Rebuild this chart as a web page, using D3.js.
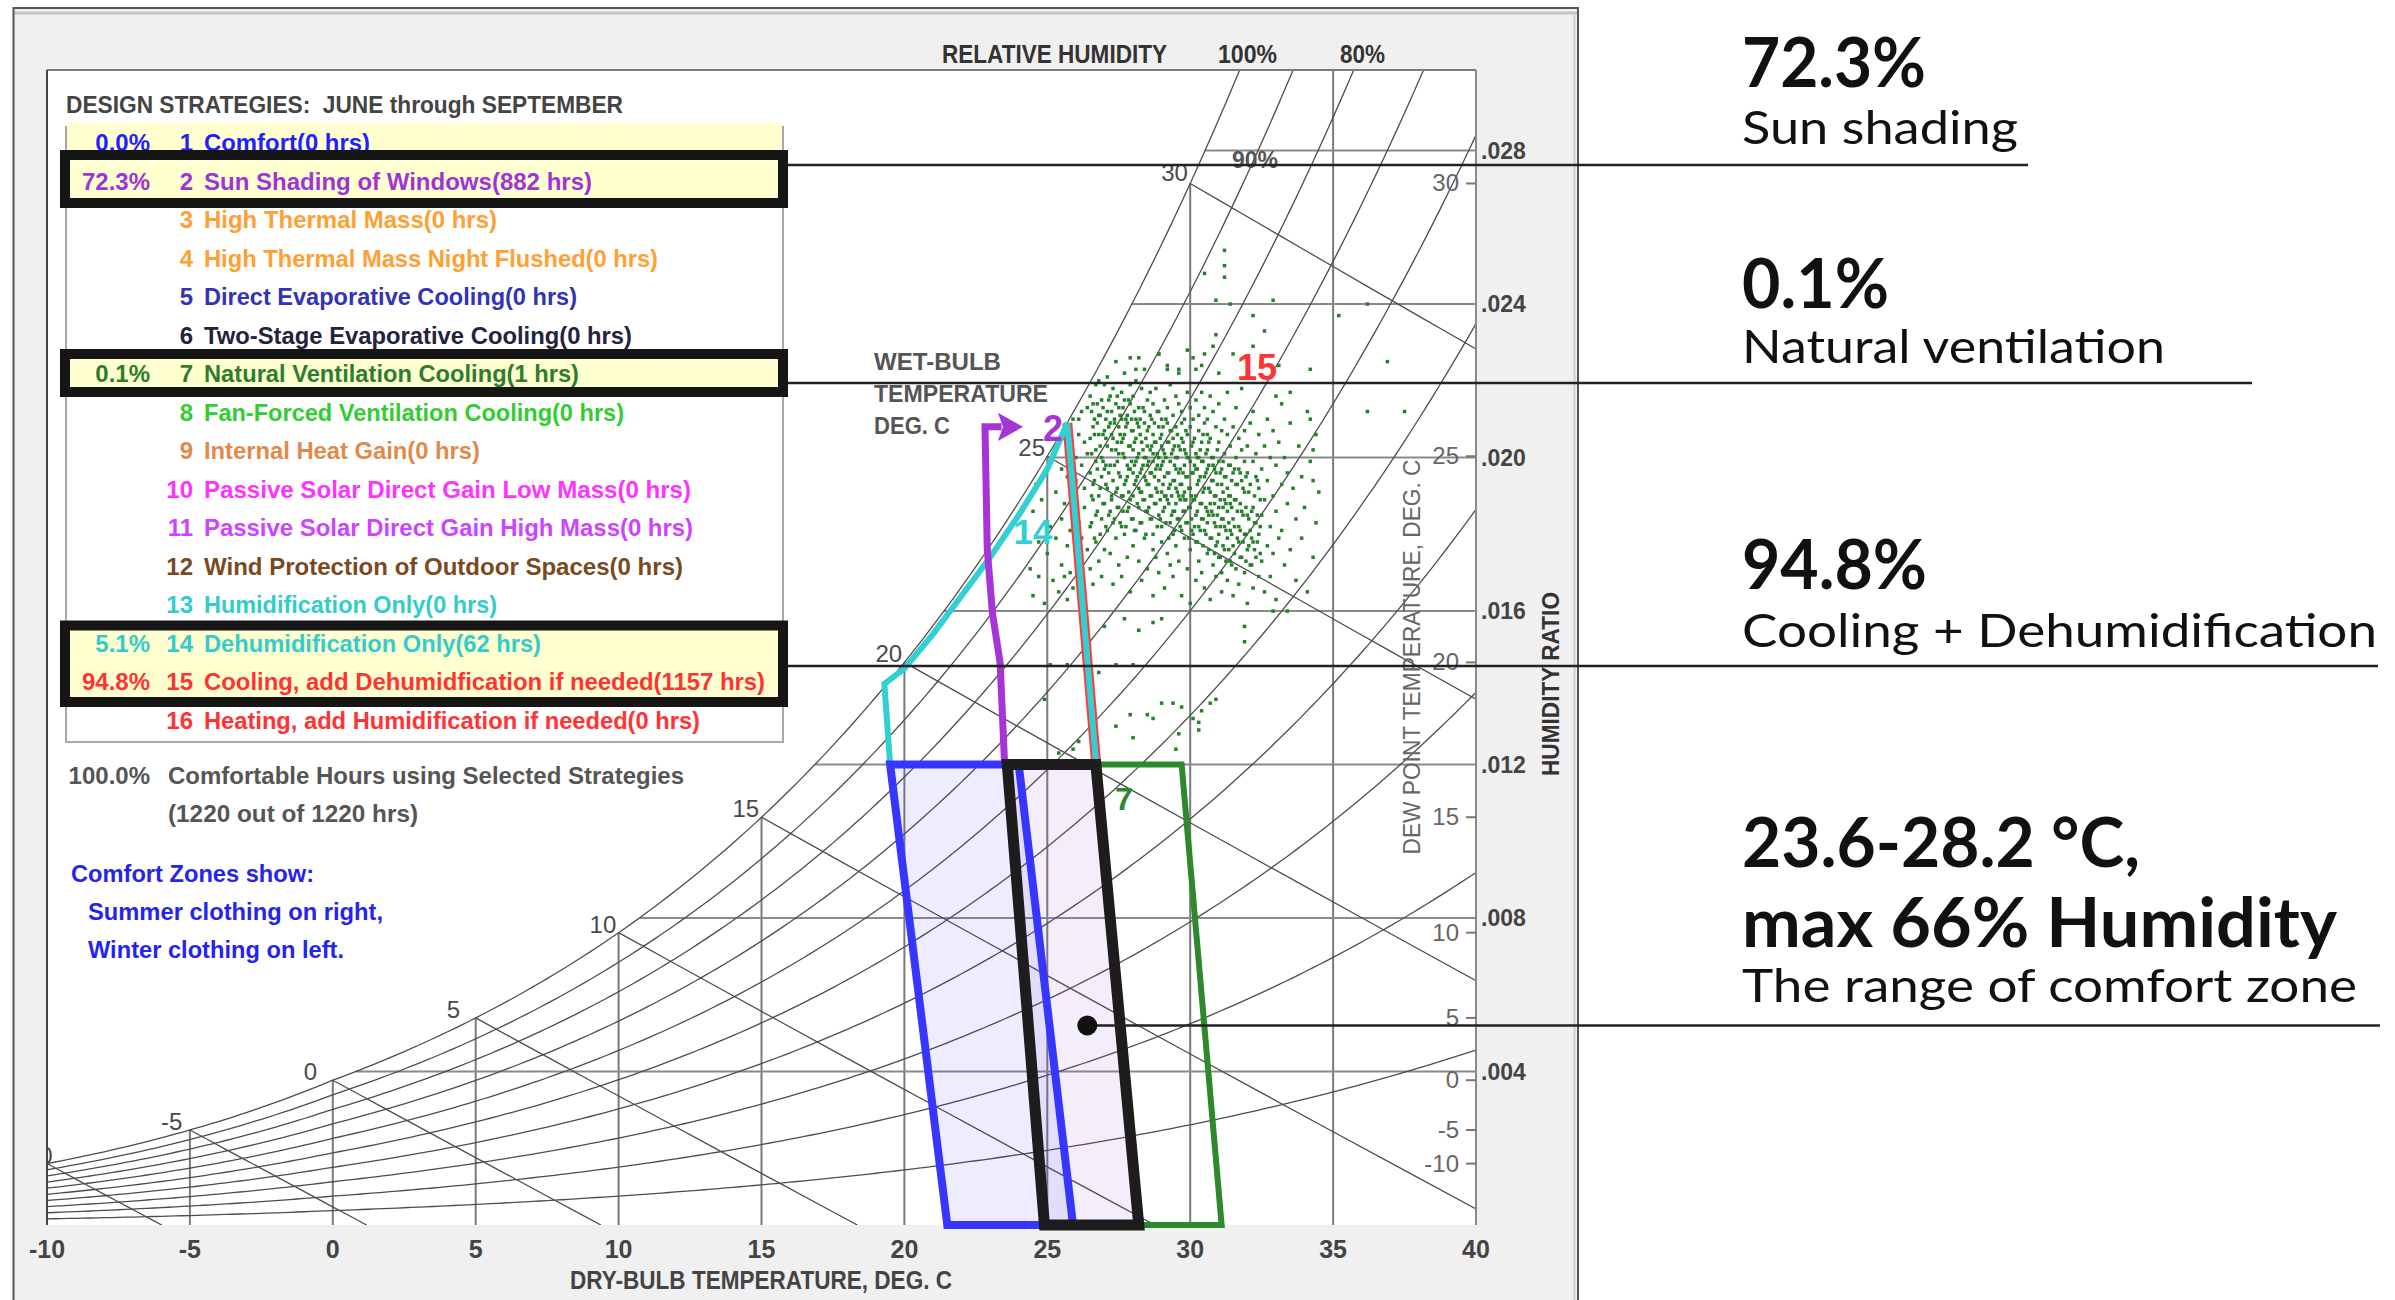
<!DOCTYPE html>
<html lang="en">
<head>
<meta charset="utf-8">
<title>Psychrometric chart – design strategies, June through September</title>
<script src="https://cdn.jsdelivr.net/npm/d3@7/dist/d3.min.js"></script>
<style>
  html, body { margin: 0; padding: 0; background: #ffffff; }
  svg { display: block; }
  .ui { font-family: "Liberation Sans", Arial, Helvetica, sans-serif; }
  .note { font-family: Lato, "Noto Sans", sans-serif; }
  .pre { white-space: pre; }
</style>
</head>
<body>
<svg id="chart" width="2395" height="1300"></svg>
<script>
// ---------------------------------------------------------------------------
// Chart data
// ---------------------------------------------------------------------------
const dryBulbTicks = [-10, -5, 0, 5, 10, 15, 20, 25, 30, 35, 40];          // °C
const humidityRatioTicks = [4, 8, 12, 16, 20, 24, 28];                     // g/kg
const humidityRatioLabels = [".004", ".008", ".012", ".016", ".020", ".024", ".028"];
const dewPointTicks = [-10, -5, 0, 5, 10, 15, 20, 25, 30];                 // °C
const wetBulbTicks = [-10, -5, 0, 5, 10, 15, 20, 25, 30];                  // °C
const rhCurves = [10, 20, 30, 40, 50, 60, 70, 80, 90, 100];                // %

const strategyNames = [
  "Comfort", "Sun Shading of Windows", "High Thermal Mass", "High Thermal Mass Night Flushed",
  "Direct Evaporative Cooling", "Two-Stage Evaporative Cooling", "Natural Ventilation Cooling",
  "Fan-Forced Ventilation Cooling", "Internal Heat Gain", "Passive Solar Direct Gain Low Mass",
  "Passive Solar Direct Gain High Mass", "Wind Protection of Outdoor Spaces", "Humidification Only",
  "Dehumidification Only", "Cooling, add Dehumidfication if needed", "Heating, add Humidification if needed"
];
const strategyHours = [0, 882, 0, 0, 0, 0, 1, 0, 0, 0, 0, 0, 0, 62, 1157, 0];
const selectedStrategies = [1, 2, 7, 14, 15];
const totalHours = 1220;
const comfortableHours = 1220;

// zones as [dry-bulb °C, humidity ratio g/kg]
const winterZone = [[19.5, 12], [24.0, 12], [25.9, 0], [21.5, 0]];
const summerZone = [[23.6, 12], [26.7, 12], [28.2, 0], [24.9, 0]];
const ventilationZone = [[26.7, 12], [29.7, 12], [31.1, 0], [28.2, 0]];
const dehumidZone = [[19.5, 12], [19.3, 14.1], [20, 14.5], [21, 15.4], [22, 16.4], [23, 17.4],
                     [24, 18.5], [25, 19.7], [25.7, 20.9], [26.7, 12.1]];
const coolingEdge = [[25.7, 20.9], [26.7, 12.1]];
const sunShadingEdge = [[23.5, 12.1], [23.35, 14.65], [23.08, 15.95], [22.9, 17.6], [22.82, 20.8], [23.4, 20.8]];
const sunShadingArrow = [[23.27, 21.17], [24.15, 20.8], [23.27, 20.43], [23.45, 20.8]];
const comfortMarker = [26.4, 5.2];

// hourly conditions: [dry-bulb °C, [humidity ratios g/kg]]
const hourlyByTemp = [
  [24.4, [17.1]], [24.5, [18.6, 16.4]], [24.6, [19.3]], [24.7, [17.8, 16.9]], [24.8, [18.9]],
  [24.9, [16.2, 19.6]], [25.0, [17.5]], [25.1, [18.2, 19.9]], [25.2, [16.8]], [25.3, [17.9, 19.1]],
  [25.4, [16.5, 20.4]], [25.5, [18.4, 19.7, 17.2]], [25.6, [20.5, 16.9, 18.8]],
  [25.7, [19.5, 17.7, 20.7, 16.3]], [25.8, [18.1, 20.3, 17.0]], [25.9, [19.0, 21.0, 16.6, 18.6]],
  [26.0, [20.0, 17.4, 19.4]], [26.1, [21.0, 18.3, 16.8, 20.6]], [26.2, [19.8, 17.9, 21.2]],
  [26.3, [18.7, 20.4, 16.5, 19.2]], [26.4, [21.3, 17.6, 20.1]],
  [26.5, [19.6, 18.2, 21.6, 17.1, 20.5]], [26.6, [20.8, 18.9, 16.7, 21.4, 19.3]],
  [26.7, [17.8, 20.2, 21.9, 18.5, 19.9]], [26.8, [21.1, 19.0, 17.3, 20.6, 22.0]],
  [26.9, [18.4, 20.0, 21.5, 19.5, 16.9]], [27.0, [20.7, 18.8, 21.9, 17.6, 19.7]],
  [27.1, [19.2, 21.2, 20.3, 18.1, 22.1]], [27.2, [20.9, 17.5, 19.8, 21.6, 18.6]],
  [27.3, [18.3, 20.5, 21.8, 19.4, 16.7]], [27.4, [21.4, 19.1, 20.2, 17.9, 22.5]],
  [27.5, [20.1, 18.7, 21.3, 19.6, 17.2, 20.8]], [27.6, [19.0, 21.7, 20.4, 18.2, 21.0, 16.9]],
  [27.7, [20.6, 19.3, 21.5, 18.0, 20.0, 22.2]], [27.8, [18.6, 21.1, 19.8, 20.9, 17.4, 19.5]],
  [27.9, [21.9, 20.3, 18.9, 19.7, 21.4, 16.5]], [28.0, [20.2, 19.0, 21.6, 18.4, 20.7, 17.7, 19.6]],
  [28.1, [19.4, 21.0, 20.5, 18.1, 22.0, 19.9]], [28.2, [20.8, 18.7, 21.3, 19.2, 17.3, 20.1, 22.6]],
  [28.3, [19.7, 21.8, 18.3, 20.4, 19.1, 16.8]], [28.4, [21.2, 20.0, 18.9, 19.5, 17.9, 20.9, 22.3]],
  [28.5, [20.3, 18.6, 21.5, 19.3, 17.1, 20.7, 19.8]], [28.6, [19.0, 21.1, 20.2, 18.4, 21.7, 19.6]],
  [28.7, [20.6, 18.0, 19.9, 21.4, 17.6, 20.1, 16.4]], [28.8, [21.8, 19.2, 20.4, 18.8, 19.7, 17.4]],
  [28.9, [20.0, 18.5, 21.2, 19.4, 22.7, 20.8, 17.0]], [29.0, [19.1, 20.6, 18.2, 21.0, 19.8, 17.8, 20.3]],
  [29.1, [21.5, 19.5, 20.1, 18.7, 16.6, 19.0]], [29.2, [20.4, 18.9, 21.3, 19.6, 17.5, 20.9, 22.3]],
  [29.3, [19.3, 20.7, 18.3, 21.9, 19.9, 17.2]], [29.4, [20.2, 18.6, 21.1, 19.4, 20.5, 16.9, 18.0]],
  [29.5, [19.7, 21.6, 18.8, 20.0, 17.7, 19.2, 20.8]], [29.6, [18.4, 20.3, 21.4, 19.0, 17.3, 22.3, 19.6]],
  [29.7, [20.9, 19.3, 18.1, 20.5, 16.4, 21.2]], [29.8, [19.8, 18.6, 21.0, 17.9, 20.2, 19.1, 18.9]],
  [29.9, [20.6, 18.3, 19.5, 21.7, 17.1, 20.0]], [30.0, [19.2, 20.8, 18.7, 21.3, 17.6, 19.9, 16.2]],
  [30.1, [20.4, 18.0, 19.6, 21.0, 18.9, 22.6]], [30.2, [19.0, 20.1, 17.8, 21.5, 18.5, 19.7, 16.8]],
  [30.3, [20.7, 18.2, 19.4, 17.3, 21.1, 20.0]], [30.4, [18.8, 19.9, 21.7, 17.0, 20.4, 18.4, 22.4]],
  [30.5, [19.5, 20.9, 18.1, 16.6, 19.2, 21.3]], [30.6, [20.2, 18.6, 19.7, 17.5, 21.0, 18.3, 20.6]],
  [30.7, [19.1, 17.9, 20.5, 18.8, 21.6, 16.3]], [30.8, [20.0, 18.5, 19.4, 17.2, 21.2, 19.8, 22.9]],
  [30.9, [18.2, 19.6, 20.8, 17.7, 19.0, 16.9]], [31.0, [19.9, 18.7, 20.4, 17.4, 21.4, 18.0, 22.2]],
  [31.1, [18.4, 19.3, 20.7, 17.0, 19.7, 16.5]], [31.2, [20.1, 18.9, 17.6, 19.5, 21.0, 18.2]],
  [31.3, [19.2, 17.9, 20.6, 18.6, 16.8, 21.7]], [31.4, [18.1, 19.8, 20.3, 17.3, 19.0, 18.8]],
  [31.5, [19.6, 18.4, 17.7, 20.8, 16.4]], [31.6, [18.9, 20.0, 17.1, 19.3, 21.3]],
  [31.7, [19.7, 18.2, 17.8, 20.5, 16.7]], [31.8, [18.6, 19.4, 17.4, 20.2, 21.8]],
  [31.9, [19.1, 18.0, 20.7, 17.0, 19.9]], [32.0, [18.5, 19.6, 17.6, 20.3, 16.2]],
  [32.1, [19.3, 18.1, 20.9, 17.2]], [32.2, [18.7, 19.9, 17.8, 21.2, 16.6]],
  [32.3, [19.5, 18.3, 20.1, 17.4]], [32.4, [18.0, 19.2, 20.6, 16.9]],
  [32.5, [19.7, 18.5, 17.3]], [32.6, [18.9, 20.3, 16.5]], [32.7, [19.4, 17.7, 21.0]],
  [32.8, [18.2, 20.0, 16.9]], [32.9, [19.0, 17.5, 20.7]], [33.0, [18.6, 19.8, 16.3]],
  [33.1, [20.4, 17.9]], [33.2, [19.3, 18.1, 21.4]], [33.3, [17.2, 20.0]], [33.4, [18.8, 19.6]],
  [33.5, [17.6, 20.9]], [33.6, [19.2]], [33.7, [18.4, 16.8]], [33.8, [20.3]], [33.9, [17.9, 19.5]],
  [34.0, [18.7]], [34.1, [21.2, 16.5]], [34.2, [19.9]], [34.3, [17.4]], [34.4, [20.6, 18.3]], [34.5, [19.1]],
  // core band, half-step offsets
  [26.55, [20.1, 19.0, 21.2, 18.3]], [26.65, [20.6, 19.4, 21.0, 17.9]], [26.75, [19.7, 20.9, 18.6, 21.4]],
  [26.85, [20.3, 19.2, 18.0, 21.1]], [26.95, [19.9, 21.3, 18.8, 20.6]], [27.05, [20.5, 19.3, 21.0, 18.2, 19.8]],
  [27.15, [19.6, 20.8, 18.5, 21.5]], [27.25, [20.2, 19.0, 21.2, 18.9, 20.6]], [27.35, [19.8, 20.9, 18.4, 21.0]],
  [27.45, [20.4, 19.2, 21.6, 18.7, 19.9]], [27.55, [19.5, 20.6, 18.3, 21.1]], [27.65, [20.1, 19.0, 21.3, 18.6, 20.5]],
  [27.75, [19.4, 20.8, 18.2, 21.0]], [27.85, [20.3, 19.1, 18.7, 21.5, 19.7]], [27.95, [19.9, 20.7, 18.4, 21.0]],
  [28.05, [19.3, 20.4, 18.1, 21.2, 19.8]], [28.15, [20.0, 18.8, 20.9, 19.5]], [28.25, [19.6, 20.6, 18.3, 21.0, 19.1]],
  [28.35, [20.2, 18.9, 19.8, 21.3]], [28.45, [19.4, 20.5, 18.6, 20.0, 18.0]], [28.55, [19.9, 18.7, 20.8, 19.3]],
  [28.65, [20.3, 19.0, 18.4, 21.0, 19.6]], [28.75, [19.5, 20.4, 18.8, 20.9]], [28.85, [19.1, 20.1, 18.2, 21.2, 19.8]],
  [28.95, [19.7, 18.9, 20.5, 18.4]], [29.05, [20.2, 19.3, 18.6, 20.8, 19.9]], [29.15, [19.0, 20.0, 18.3, 21.0]],
  [29.25, [19.6, 18.8, 20.4, 19.2, 17.9]], [29.35, [20.1, 19.0, 18.5, 20.7]], [29.45, [19.4, 18.6, 20.3, 19.8, 18.1]],
  [29.55, [19.1, 20.0, 18.4, 20.6]], [29.65, [19.7, 18.9, 20.2, 18.2, 19.3]], [29.75, [19.0, 20.4, 18.6, 19.6]],
  [29.85, [19.5, 18.3, 20.1, 18.9, 20.7]], [29.95, [19.2, 18.7, 20.0, 17.9]], [30.05, [19.6, 18.4, 20.3, 19.0, 18.1]],
  [30.15, [18.9, 19.8, 18.2, 20.5]], [30.25, [19.3, 18.6, 20.0, 17.8, 19.7]], [30.35, [18.8, 19.5, 18.1, 20.2]],
  [30.45, [19.1, 18.4, 19.9, 17.7, 20.6]], [30.55, [18.7, 19.6, 18.0, 20.1]], [30.65, [19.2, 18.5, 19.8, 17.6, 20.4]],
  [30.75, [18.6, 19.4, 17.9, 20.0]], [30.85, [19.0, 18.3, 19.7, 17.5, 18.8]], [30.95, [18.5, 19.3, 17.8, 20.2]],
  [31.05, [18.9, 18.2, 19.6, 17.4]], [31.15, [18.4, 19.1, 17.7, 19.9, 18.7]], [31.25, [18.8, 18.1, 19.5, 17.3]],
  [31.35, [18.3, 19.0, 17.6, 19.8]], [31.45, [18.7, 18.0, 19.4, 17.2]], [31.55, [18.2, 18.9, 17.5, 19.7]],
  [31.65, [18.6, 17.9, 19.3]], [31.75, [18.1, 18.8, 17.4, 19.6]], [31.85, [18.5, 17.8, 19.2]],
  [31.95, [18.0, 18.7, 17.3, 19.5]], [32.05, [18.4, 17.7, 19.1]], [32.15, [17.9, 18.6, 17.2]],
  [32.25, [18.3, 19.0, 17.6]], [32.35, [17.8, 18.5, 19.4]], [32.45, [18.2, 17.5, 18.9]]
];
const hourlyOutliers = [
  [31.2, 25.4], [31.2, 25.0], [31.2, 24.7], [30.5, 24.8], [30.9, 24.1], [31.4, 24.0], [32.9, 24.1],
  [36.2, 24.0], [35.2, 23.7], [32.2, 23.7], [32.6, 23.3], [30.9, 23.2], [27.9, 22.6], [28.9, 22.7],
  [29.9, 22.8], [30.5, 22.7], [31.5, 22.7], [32.2, 22.9], [33.1, 22.4], [34.2, 22.3], [36.9, 22.5],
  [28.1, 22.3], [29.2, 22.4], [29.6, 22.2], [30.2, 22.3], [36.2, 21.2], [37.5, 21.2], [33.0, 21.6],
  [33.5, 21.7], [34.2, 21.0], [34.3, 20.2], [34.3, 19.4],
  [27.0, 15.6], [27.7, 15.8], [28.2, 15.5], [28.7, 15.7], [29.0, 15.8], [31.9, 15.6], [31.9, 15.2],
  [32.9, 16.0], [33.4, 16.0],
  [27.9, 13.3], [28.5, 13.3], [28.7, 13.2], [29.0, 13.6], [29.4, 13.6], [29.7, 13.5], [30.1, 13.2],
  [30.3, 13.1], [30.4, 13.4], [30.7, 13.6], [30.9, 13.7], [29.6, 12.8], [30.3, 12.9], [27.4, 13.0],
  [28.0, 12.7], [25.1, 14.6], [25.7, 14.6], [27.4, 14.6], [28.0, 14.6], [26.8, 14.4], [25.4, 12.3],
  [25.9, 12.4], [29.5, 12.4], [24.9, 13.7], [26.1, 12.6]
];

// ---------------------------------------------------------------------------
// Styling / layout
// ---------------------------------------------------------------------------
const strategyColors = ["#1f1fff", "#a233d2", "#ffa034", "#ffa034", "#3333b3", "#23233f", "#2e7d2e",
  "#33cc33", "#e08a4c", "#ff33ff", "#cc44ff", "#7a4a1e", "#33cccc", "#33cccc", "#ff3333", "#ff3333"];
const legendLabelEnds = [370, 592, 497, 658, 577, 632, 579, 624, 480, 691, 693, 683, 497, 541, 765, 700];
const highlightBoxes = [{ y0: 155, y1: 203 }, { y0: 354, y1: 392 }, { y0: 625.5, y1: 702 }];
const calloutY = [165, 383, 666];
const calloutEnds = [2028, 2252, 2378];

// ---------------------------------------------------------------------------
// Psychrometrics (sea-level pressure)
// ---------------------------------------------------------------------------
const P = 101.325;
function pws(t) {
  return t >= 0 ? 0.61094 * Math.exp(17.625 * t / (t + 243.04))
                : 0.61115 * Math.exp(22.452 * t / (272.55 + t));
}
function wAt(t, phi) { const p = phi * pws(t); return 622 * p / (P - p); }
function wetBulbW(t, twb) {
  const ws = wAt(twb, 1) / 1000;
  return 1000 * ((2501 - 2.326 * twb) * ws - 1.006 * (t - twb)) / (2501 + 1.86 * t - 4.186 * twb);
}
function dewPoint(w) {
  let lo = -40, hi = 60;
  for (let i = 0; i < 60; i++) { const m = (lo + hi) / 2; if (wAt(m, 1) < w) lo = m; else hi = m; }
  return (lo + hi) / 2;
}

// ---------------------------------------------------------------------------
// Scales
// ---------------------------------------------------------------------------
const W_MAX = 30.1;
const x = d3.scaleLinear().domain([-10, 40]).range([47, 1476]);
const y = d3.scaleLinear().domain([0, W_MAX]).range([1225, 70]);
const line = d3.line().x(d => x(d[0])).y(d => y(d[1]));

const svg = d3.select("#chart");

// window panel
svg.append("rect").attr("x", 13).attr("y", 7).attr("width", 1566).attr("height", 1300).attr("fill", "#f0f0f0");
svg.append("line").attr("x1", 13).attr("x2", 1579).attr("y1", 8).attr("y2", 8).attr("stroke", "#555").attr("stroke-width", 2);
svg.append("line").attr("x1", 14).attr("x2", 1577).attr("y1", 13).attr("y2", 13).attr("stroke", "#c4c4c4").attr("stroke-width", 3);
svg.append("line").attr("x1", 13.5).attr("x2", 13.5).attr("y1", 7).attr("y2", 1300).attr("stroke", "#555").attr("stroke-width", 2);
svg.append("line").attr("x1", 1578).attr("x2", 1578).attr("y1", 7).attr("y2", 1300).attr("stroke", "#555").attr("stroke-width", 2);
svg.append("line").attr("x1", 1574.5).attr("x2", 1574.5).attr("y1", 14).attr("y2", 1300).attr("stroke", "#d0d0d0").attr("stroke-width", 2);

// plot area
svg.append("rect").attr("x", x(-10)).attr("y", y(W_MAX)).attr("width", x(40) - x(-10))
  .attr("height", y(0) - y(W_MAX)).attr("fill", "#ffffff");
svg.append("clipPath").attr("id", "plotClip").append("rect")
  .attr("x", x(-10)).attr("y", y(W_MAX)).attr("width", x(40) - x(-10)).attr("height", y(0) - y(W_MAX));

const grid = svg.append("g").attr("clip-path", "url(#plotClip)").attr("fill", "none");

// dry-bulb verticals up to saturation
grid.selectAll("line.db").data(dryBulbTicks.filter(t => t > -10 && t < 40)).join("line")
  .attr("x1", d => x(d)).attr("x2", d => x(d))
  .attr("y1", y(0)).attr("y2", d => y(Math.min(wAt(d, 1), W_MAX)))
  .attr("stroke", "#7a7a7a").attr("stroke-width", 2);

// humidity-ratio horizontals from saturation
grid.selectAll("line.hr").data(humidityRatioTicks).join("line")
  .attr("x1", d => x(dewPoint(d))).attr("x2", x(40))
  .attr("y1", d => y(d)).attr("y2", d => y(d))
  .attr("stroke", "#8a8a8a").attr("stroke-width", 2);

// relative-humidity curves
const tSamples = d3.range(-10, 40.001, 0.25);
grid.selectAll("path.rh").data(rhCurves).join("path")
  .attr("d", rh => line(tSamples.map(t => [t, wAt(t, rh / 100)])))
  .attr("stroke", "#4d4d4d").attr("stroke-width", 1.3);

// wet-bulb lines
grid.selectAll("path.wb").data(wetBulbTicks).join("path")
  .attr("d", twb => {
    const ws = wAt(twb, 1) / 1000;
    const tEnd = Math.min(40, twb + (2501 - 2.326 * twb) * ws / 1.006);
    return line(d3.range(0, 1.0001, 0.1).map(f => {
      const t = twb + f * (tEnd - twb);
      return [t, Math.max(0, wetBulbW(t, twb))];
    }));
  })
  .attr("stroke", "#4d4d4d").attr("stroke-width", 1.3);

// wet-bulb labels at saturation
grid.selectAll("text.wbl").data(wetBulbTicks).join("text")
  .attr("class", "ui")
  .attr("x", d => x(d) - 29).attr("y", d => y(wAt(d, 1)) - (d >= 30 ? 2 : 0))
  .attr("font-size", 24).attr("fill", "#4a4a4a")
  .text(d => d);

// plot frame
svg.append("line").attr("x1", x(-10)).attr("x2", x(40)).attr("y1", y(W_MAX)).attr("y2", y(W_MAX))
  .attr("stroke", "#7a7a7a").attr("stroke-width", 2);
svg.append("line").attr("x1", x(-10)).attr("x2", x(-10)).attr("y1", y(W_MAX)).attr("y2", y(0))
  .attr("stroke", "#444").attr("stroke-width", 2);
svg.append("line").attr("x1", x(40)).attr("x2", x(40)).attr("y1", y(W_MAX)).attr("y2", y(0))
  .attr("stroke", "#8a8a8a").attr("stroke-width", 2);

// axes text
const ui = svg.append("g").attr("class", "ui");
ui.selectAll("text.xt").data(dryBulbTicks).join("text")
  .attr("x", d => x(d)).attr("y", 1258).attr("text-anchor", "middle")
  .attr("font-size", 25).attr("font-weight", "bold").attr("fill", "#444").text(d => d);
ui.append("text").attr("x", 570).attr("y", 1289).attr("font-size", 25).attr("font-weight", "bold")
  .attr("fill", "#444").attr("textLength", 382).attr("lengthAdjust", "spacingAndGlyphs")
  .text("DRY-BULB TEMPERATURE, DEG. C");

// humidity ratio labels
ui.selectAll("text.hrl").data(humidityRatioTicks).join("text")
  .attr("x", 1481).attr("y", d => y(d) + 8).attr("font-size", 23).attr("font-weight", "bold")
  .attr("fill", "#444").text((d, i) => humidityRatioLabels[i]);
ui.append("text").attr("transform", "translate(1559,684) rotate(-90)").attr("text-anchor", "middle")
  .attr("font-size", 23).attr("font-weight", "bold").attr("fill", "#333")
  .attr("textLength", 184).attr("lengthAdjust", "spacingAndGlyphs").text("HUMIDITY RATIO");

// dew point scale
ui.selectAll("line.dpt").data(dewPointTicks).join("line")
  .attr("x1", 1466).attr("x2", x(40)).attr("y1", d => y(wAt(d, 1))).attr("y2", d => y(wAt(d, 1)))
  .attr("stroke", "#777").attr("stroke-width", 2);
ui.selectAll("text.dpl").data(dewPointTicks).join("text")
  .attr("x", 1459).attr("y", d => y(wAt(d, 1)) + 8).attr("text-anchor", "end")
  .attr("font-size", 24).attr("fill", "#666").text(d => d);
ui.append("text").attr("transform", "translate(1420,657) rotate(-90)").attr("text-anchor", "middle")
  .attr("font-size", 23).attr("fill", "#666")
  .attr("textLength", 395).attr("lengthAdjust", "spacingAndGlyphs").text("DEW POINT TEMPERATURE, DEG. C");

// relative humidity captions
ui.append("text").attr("x", 942).attr("y", 63).attr("font-size", 25).attr("font-weight", "bold")
  .attr("fill", "#333").attr("textLength", 225).attr("lengthAdjust", "spacingAndGlyphs").text("RELATIVE HUMIDITY");
ui.append("text").attr("x", 1218).attr("y", 63).attr("font-size", 25).attr("font-weight", "bold")
  .attr("fill", "#333").attr("textLength", 59).attr("lengthAdjust", "spacingAndGlyphs").text(rhCurves[9] + "%");
ui.append("text").attr("x", 1340).attr("y", 63).attr("font-size", 25).attr("font-weight", "bold")
  .attr("fill", "#333").attr("textLength", 45).attr("lengthAdjust", "spacingAndGlyphs").text(rhCurves[7] + "%");
ui.append("text").attr("x", 1232).attr("y", 168).attr("font-size", 24).attr("font-weight", "bold")
  .attr("fill", "#555").attr("textLength", 46).attr("lengthAdjust", "spacingAndGlyphs").text(rhCurves[8] + "%");

// wet-bulb caption
[["WET-BULB", 370, 127], ["TEMPERATURE", 402, 174], ["DEG. C", 434, 76]].forEach(([t, by, w]) => {
  ui.append("text").attr("x", 874).attr("y", by).attr("font-size", 23).attr("font-weight", "bold")
    .attr("fill", "#555").attr("textLength", w).attr("lengthAdjust", "spacingAndGlyphs").text(t);
});

// ---------------------------------------------------------------------------
// Hourly climate points
// ---------------------------------------------------------------------------
const hourlyPoints = hourlyByTemp.flatMap(([t, ws]) => ws.map(w => [t, w])).concat(hourlyOutliers);
svg.append("g").attr("clip-path", "url(#plotClip)").selectAll("rect").data(hourlyPoints).join("rect")
  .attr("x", d => x(d[0]) - 1.75).attr("y", d => y(d[1]) - 1.75)
  .attr("width", 3.5).attr("height", 3.5).attr("fill", "#26802a");

// ---------------------------------------------------------------------------
// Strategy and comfort zones
// ---------------------------------------------------------------------------
const zones = svg.append("g").attr("fill", "none").attr("stroke-linejoin", "miter");
zones.append("path").attr("d", line(summerZone) + "Z").attr("fill", "rgb(150,90,230)").attr("fill-opacity", 0.1);
zones.append("path").attr("d", line(winterZone) + "Z").attr("fill", "rgb(53,53,255)").attr("fill-opacity", 0.09);

zones.append("path").attr("d", line(coolingEdge)).attr("stroke", "#ff3b3b").attr("stroke-width", 10);
zones.append("path").attr("d", line(dehumidZone)).attr("stroke", "#33d0d3").attr("stroke-width", 6);

zones.append("path").attr("d", line(sunShadingEdge)).attr("stroke", "#a535d5").attr("stroke-width", 7);
zones.append("path").attr("d", line(sunShadingArrow) + "Z").attr("fill", "#a535d5");

zones.append("path").attr("d", line(ventilationZone)).attr("stroke", "#2e882e").attr("stroke-width", 6);
zones.append("path").attr("d", line(winterZone) + "Z").attr("stroke", "#3636ff").attr("stroke-width", 8);
zones.append("path").attr("d", line(summerZone) + "Z").attr("stroke", "#1e1c1c").attr("stroke-width", 11);

const zl = svg.append("g").attr("class", "ui").attr("font-weight", "bold");
zl.append("text").attr("x", 1053).attr("y", 441).attr("text-anchor", "middle").attr("font-size", 36)
  .attr("fill", "#a535d5").text("2");
zl.append("text").attr("x", 1033).attr("y", 544).attr("text-anchor", "middle").attr("font-size", 35)
  .attr("fill", "#33d0d3").text("14");
zl.append("text").attr("x", 1257).attr("y", 380).attr("text-anchor", "middle").attr("font-size", 36)
  .attr("fill", "#ff3333").text("15");
zl.append("text").attr("x", 1124).attr("y", 810).attr("text-anchor", "middle").attr("font-size", 32)
  .attr("fill", "#2e882e").text("7");

// ---------------------------------------------------------------------------
// Legend of design strategies
// ---------------------------------------------------------------------------
const leg = svg.append("g").attr("class", "ui").attr("font-weight", "bold");
leg.append("text").attr("class", "pre").attr("x", 66).attr("y", 113).attr("font-size", 23).attr("fill", "#444")
  .attr("textLength", 557).attr("lengthAdjust", "spacingAndGlyphs")
  .text("DESIGN STRATEGIES:  JUNE through SEPTEMBER");
leg.append("rect").attr("x", 66).attr("y", 127).attr("width", 717).attr("height", 615)
  .attr("fill", "#fff").attr("stroke", "#a8a8a8").attr("stroke-width", 2);

const rowY = i => 142 + i * 38.5;
leg.selectAll("rect.band").data(selectedStrategies).join("rect")
  .attr("x", 67).attr("width", 715).attr("y", d => rowY(d - 1) - 19.25).attr("height", 38.5)
  .attr("fill", "#ffffcf");

strategyNames.forEach((name, i) => {
  const id = i + 1, cy = rowY(i) + 9, col = strategyColors[i];
  if (selectedStrategies.includes(id)) {
    leg.append("text").attr("x", 150).attr("y", cy).attr("text-anchor", "end").attr("font-size", 24)
      .attr("fill", col).text((100 * strategyHours[i] / totalHours).toFixed(1) + "%");
  }
  leg.append("text").attr("x", 193).attr("y", cy).attr("text-anchor", "end").attr("font-size", 24)
    .attr("fill", col).text(id);
  leg.append("text").attr("x", 204).attr("y", cy).attr("font-size", 24).attr("fill", col)
    .attr("textLength", legendLabelEnds[i] - 204).attr("lengthAdjust", "spacingAndGlyphs")
    .text(`${name}(${strategyHours[i]} hrs)`);
});

leg.append("text").attr("x", 150).attr("y", 784).attr("text-anchor", "end").attr("font-size", 24)
  .attr("fill", "#555").text((100 * comfortableHours / totalHours).toFixed(1) + "%");
leg.append("text").attr("x", 168).attr("y", 784).attr("font-size", 24).attr("fill", "#555")
  .attr("textLength", 516).attr("lengthAdjust", "spacingAndGlyphs").text("Comfortable Hours using Selected Strategies");
leg.append("text").attr("x", 168).attr("y", 822).attr("font-size", 24).attr("fill", "#555")
  .attr("textLength", 250).attr("lengthAdjust", "spacingAndGlyphs")
  .text(`(${comfortableHours} out of ${totalHours} hrs)`);
[["Comfort Zones show:", 71, 882, 243], ["Summer clothing on right,", 88, 920, 295],
 ["Winter clothing on left.", 88, 958, 256]].forEach(([t, lx, by, w]) => {
  leg.append("text").attr("x", lx).attr("y", by).attr("font-size", 24).attr("fill", "#2424ee")
    .attr("textLength", w).attr("lengthAdjust", "spacingAndGlyphs").text(t);
});

// ---------------------------------------------------------------------------
// Call-outs
// ---------------------------------------------------------------------------
const co = svg.append("g");
highlightBoxes.forEach(b => {
  co.append("rect").attr("x", 65).attr("y", b.y0).attr("width", 718).attr("height", b.y1 - b.y0)
    .attr("fill", "none").attr("stroke", "#161616").attr("stroke-width", 10);
});
calloutY.forEach((cy, i) => {
  co.append("line").attr("x1", 788).attr("x2", calloutEnds[i]).attr("y1", cy).attr("y2", cy)
    .attr("stroke", "#222").attr("stroke-width", 2.5);
});
co.append("line").attr("x1", x(comfortMarker[0])).attr("x2", 2380)
  .attr("y1", y(comfortMarker[1])).attr("y2", y(comfortMarker[1])).attr("stroke", "#222").attr("stroke-width", 2.5);
co.append("circle").attr("cx", x(comfortMarker[0])).attr("cy", y(comfortMarker[1])).attr("r", 10).attr("fill", "#111");

const pct = id => (100 * strategyHours[id - 1] / totalHours).toFixed(1) + "%";
const tMin = summerZone[0][0], tMax = summerZone[2][0];
const maxRh = Math.round(100 * (summerZone[0][1] * P / (622 + summerZone[0][1])) / pws(tMin));
const notes = [
  { t: pct(2), b: 87, bold: true, w: 184 },
  { t: "Sun shading", b: 144, bold: false, w: 276 },
  { t: pct(7), b: 308, bold: true, w: 147 },
  { t: "Natural ventilation", b: 363, bold: false, w: 423 },
  { t: pct(15), b: 589, bold: true, w: 185 },
  { t: "Cooling + Dehumidification", b: 647, bold: false, w: 635 },
  { t: `${tMin.toFixed(1)}-${tMax.toFixed(1)} °C,`, b: 867, bold: true, w: 398 },
  { t: `max ${maxRh}% Humidity`, b: 947, bold: true, w: 595 },
  { t: "The range of comfort zone", b: 1002, bold: false, w: 615 }
];
const nt = svg.append("g").attr("class", "note");
notes.forEach(n => {
  nt.append("text").attr("x", 1742).attr("y", n.b)
    .attr("font-size", n.bold ? 68 : 47).attr("font-weight", n.bold ? 700 : 400).attr("fill", "#111")
    .attr("textLength", n.w).attr("lengthAdjust", "spacingAndGlyphs").text(n.t);
});
</script>
</body>
</html>
